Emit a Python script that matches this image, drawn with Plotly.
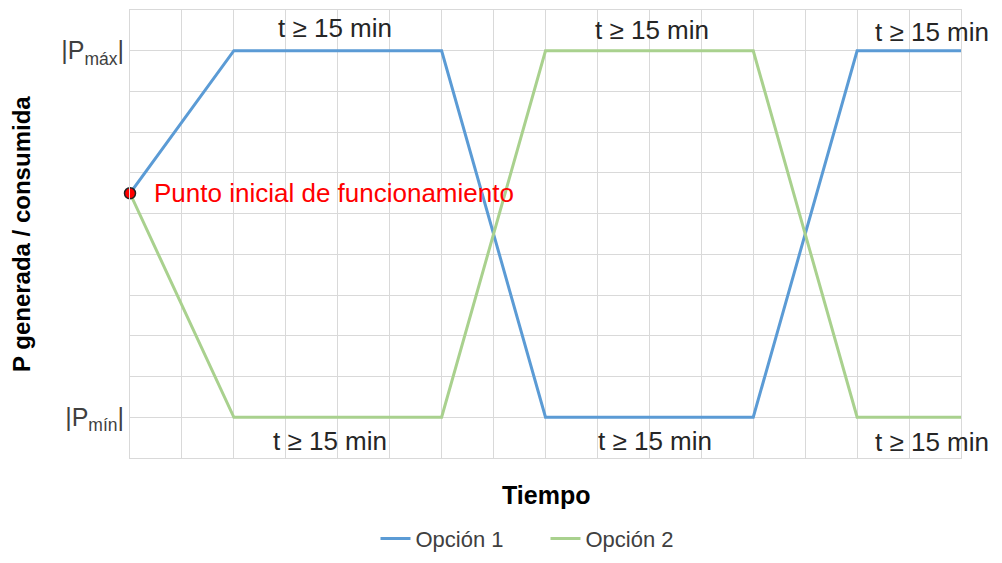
import plotly.graph_objects as go

# Data
tiempo = [0, 2, 6, 8, 12, 14, 16]
opcion1 = [6.5, 10, 10, 1, 1, 10, 10]
opcion2 = [6.5, 1, 1, 10, 10, 1, 1]
punto_inicial = (0, 6.5)
y_tick_vals = list(range(0, 12))
y_tick_text = ["", "|P<sub>mín</sub>|", "", "", "", "", "", "", "", "", "|P<sub>máx</sub>|", ""]
etiquetas_t = [
    (3.95, 10.55, "t ≥ 15 min"),
    (10.05, 10.5, "t ≥ 15 min"),
    (15.45, 10.45, "t ≥ 15 min"),
    (3.85, 0.42, "t ≥ 15 min"),
    (10.1, 0.42, "t ≥ 15 min"),
    (15.45, 0.4, "t ≥ 15 min"),
]

FONT = "Liberation Sans, Arial, sans-serif"
GRID = "#d9d9d9"

fig = go.Figure()
fig.add_trace(go.Scatter(x=tiempo, y=opcion1, mode="lines", name="Opción 1",
                         line=dict(color="#5b9bd5", width=3), cliponaxis=False))
fig.add_trace(go.Scatter(x=tiempo, y=opcion2, mode="lines", name="Opción 2",
                         line=dict(color="#a9d18e", width=3), cliponaxis=False))
fig.add_trace(go.Scatter(x=[punto_inicial[0]], y=[punto_inicial[1]], mode="markers",
                         marker=dict(color="#ff0000", size=11, line=dict(color="#222222", width=1.5)),
                         showlegend=False, cliponaxis=False))

annotations = []
for x, y, txt in etiquetas_t:
    annotations.append(dict(x=x, y=y, xref="x", yref="y", text=txt, showarrow=False,
                            font=dict(family=FONT, size=26, color="#262626"),
                            xanchor="center", yanchor="middle"))
annotations.append(dict(x=0.42, y=6.5, xref="x", yref="y", text="Punto inicial de funcionamiento",
                        showarrow=False, font=dict(family=FONT, size=26, color="#ff0000"),
                        xanchor="left", yanchor="middle"))
annotations.append(dict(x=0.5, y=0, xref="paper", yref="paper", text="<b>Tiempo</b>",
                        showarrow=False, font=dict(family=FONT, size=25, color="#000000"),
                        xanchor="center", yanchor="middle", yshift=-37))
annotations.append(dict(x=0, y=0.5, xref="paper", yref="paper", text="<b>P generada / consumida</b>",
                        showarrow=False, font=dict(family=FONT, size=24, color="#000000"),
                        xanchor="center", yanchor="middle", xshift=-109, textangle=-90))

fig.update_layout(
    width=986, height=547,
    margin=dict(l=122, r=33, t=2, b=97),
    paper_bgcolor="white", plot_bgcolor="white",
    font=dict(family=FONT, size=22, color="#404040"),
    xaxis=dict(range=[0, 16], tickvals=list(range(0, 17)), showticklabels=False,
               showgrid=True, gridcolor=GRID, gridwidth=1, zeroline=False,
               showline=True, linecolor=GRID, linewidth=1, mirror=True, ticks=""),
    yaxis=dict(range=[0, 11], tickvals=y_tick_vals, ticktext=y_tick_text,
               showgrid=True, gridcolor=GRID, gridwidth=1, zeroline=False,
               showline=True, linecolor=GRID, linewidth=1, mirror=True, ticks="",
               ticklabelstandoff=0,
               tickfont=dict(family=FONT, size=25, color="#404040")),
    legend=dict(orientation="h", x=0.5, xanchor="center", y=0.03, yref="container",
                yanchor="middle", entrywidth=125,
                font=dict(family=FONT, size=22, color="#404040")),
    annotations=annotations,
    showlegend=True,
)

fig.write_html("out.html")
